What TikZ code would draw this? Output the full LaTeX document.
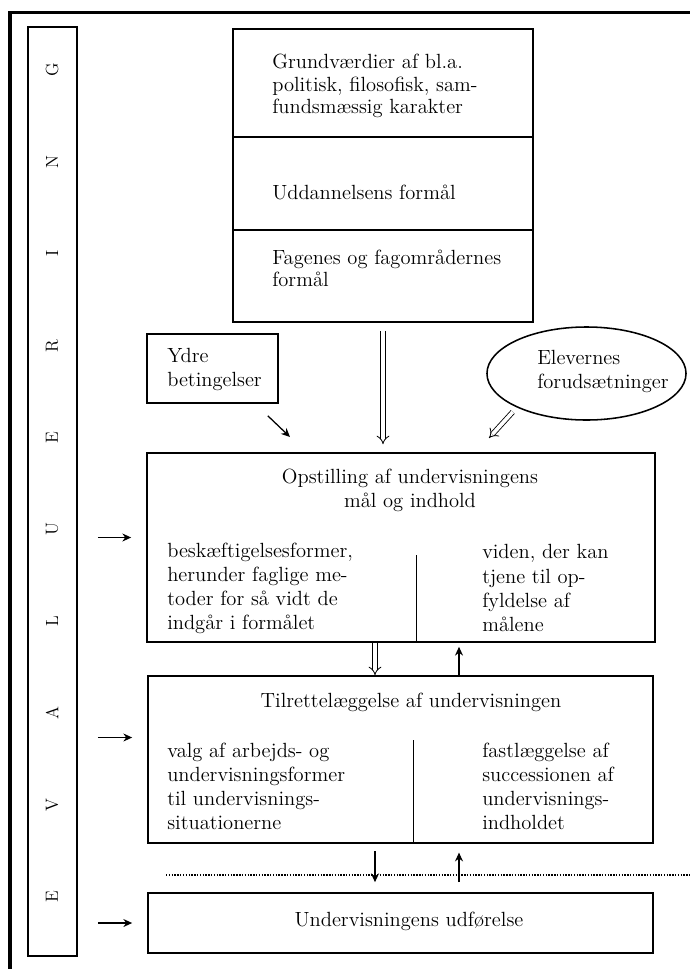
\documentclass[tikz,border=0pt]{standalone}
\usetikzlibrary{arrows.meta,shapes.geometric,calc}
\tikzset{
  box/.style={draw, line width=1.1pt, inner sep=0pt},
  txt/.style={align=left, anchor=west, inner sep=0pt, font=\fontsize{14.6}{17.1}\selectfont},
  toptxt/.style={txt, font=\fontsize{14.6}{15.8}\selectfont},
  headtxt/.style={align=center, inner sep=0pt, font=\fontsize{14.6}{17.1}\selectfont},
  arr/.style={line width=0.9pt, -{Stealth[length=0.22cm, width=0.2cm]}},
  dblarr/.style={double, line width=0.6pt, double distance=2.6pt, -{Implies[length=0.22cm, width=0.42cm]}},
  divider/.style={line width=0.7pt}
}
\begin{document}
\begin{tikzpicture}[x=0.025cm,y=-0.025cm]
  \useasboundingbox (0,0) rectangle (690,969);
  % frame
  \draw[line width=2.5pt] (10,969) -- (10,12.5) -- (690,12.5);

  % evaluering
  \node[box, minimum width=1.225cm, minimum height=23.225cm] (eval) at (52.5,491.5) {};
  \foreach \l [count=\i from 0] in {G,N,I,R,E,U,L,A,V,E}
    \node[rotate=90, font=\fontsize{12.5}{14}\selectfont] (ltr\i) at (52,70+91.9*\i) {\l};

  % formaal
  \node[box, minimum width=7.5cm, minimum height=2.7cm] (grund) at (383,83) {};
  \node[box, minimum width=7.5cm, minimum height=2.325cm] (uddan) at (383,183.5) {};
  \node[box, minimum width=7.5cm, minimum height=2.3cm] (fagen) at (383,276) {};
  \node[toptxt] (grundtxt) at (272,86) {Grundværdier af bl.a.\\politisk, filosofisk, sam-\\fundsmæssig karakter};
  \node[toptxt] (uddantxt) at (272,192) {Uddannelsens formål};
  \node[toptxt] (fagentxt) at (272,268.5) {Fagenes og fagområdernes\\formål};

  % betingelser
  \node[box, minimum width=3.275cm, minimum height=1.725cm] (ydre) at (212.5,368.5) {};
  \node[txt] (ydretxt) at (167,369.5) {Ydre\\betingelser};
  \node[ellipse, box, minimum width=4.975cm, minimum height=2.325cm] (elev) at (586.5,373.5) {};
  \node[txt] (elevtxt) at (537,371) {Elevernes\\forudsætninger};

  % opstilling
  \node[box, minimum width=12.7cm, minimum height=4.725cm] (opst) at (401,547.5) {};
  \node[headtxt] (opsttxt) at (410,490) {Opstilling af undervisningens\\mål og indhold};
  \node[txt] (opstl) at (167,588) {beskæftigelsesformer,\\herunder faglige me-\\toder for så vidt de\\indgår i formålet};
  \node[txt] (opstr) at (482,588) {viden, der kan\\tjene til op-\\fyldelse af\\målene};
  \coordinate (opstdiv) at (416,555);
  \draw[divider] (opstdiv) -- (opstdiv |- opst.south);

  % tilrettelaeggelse
  \node[box, minimum width=12.625cm, minimum height=4.175cm] (tilr) at (400.5,759.5) {};
  \node[headtxt] (tilrtxt) at (411,702) {Tilrettelæggelse af undervisningen};
  \node[txt] (tilrl) at (167,786) {valg af arbejds- og\\undervisningsformer\\til undervisnings-\\situationerne};
  \node[txt] (tilrr) at (482,786) {fastlæggelse af\\successionen af\\undervisnings-\\indholdet};
  \coordinate (tilrdiv) at (413,740);
  \draw[divider] (tilrdiv) -- (tilrdiv |- tilr.south);

  % udfoerelse
  \node[box, minimum width=12.625cm, minimum height=1.5cm] (udf) at (400.5,923) {};
  \node[headtxt] (udftxt) at (409,921) {Undervisningens udførelse};
  \draw[densely dotted, line width=1pt] (166,875) -- (690,875);

  % pile
  \coordinate (down) at (375,0);
  \coordinate (up) at (459,0);
  \draw[dblarr, shorten <=0.2cm, shorten >=0.2cm] (fagen.south) -- (fagen.south |- opst.north);
  \coordinate (ydretip) at (290,437);
  \draw[arr] ($(ydre.south east)+(-11,12)$) -- (ydretip);
  \coordinate (elevtip) at (489,438);
  \draw[dblarr, shorten <=0.15cm] (elev.206) -- (elevtip);
  \draw[dblarr] (opst.south -| down) -- (tilr.north -| down);
  \draw[arr, shorten >=0.1cm] (tilr.north -| up) -- (opst.south -| up);
  \draw[arr, shorten <=0.18cm, shorten >=0.25cm] (tilr.south -| down) -- (udf.north -| down);
  \draw[arr, shorten <=0.25cm, shorten >=0.22cm] (udf.north -| up) -- (tilr.south -| up);
  \coordinate (opstin) at ($(opst.west)+(0,-10)$);
  \coordinate (tilrin) at ($(tilr.west)+(0,-22)$);
  \foreach \b in {opstin,tilrin,udf.west}
    \draw[arr, shorten <=0.5cm, shorten >=0.375cm] (eval.east |- \b) -- (\b);
\end{tikzpicture}
\end{document}
